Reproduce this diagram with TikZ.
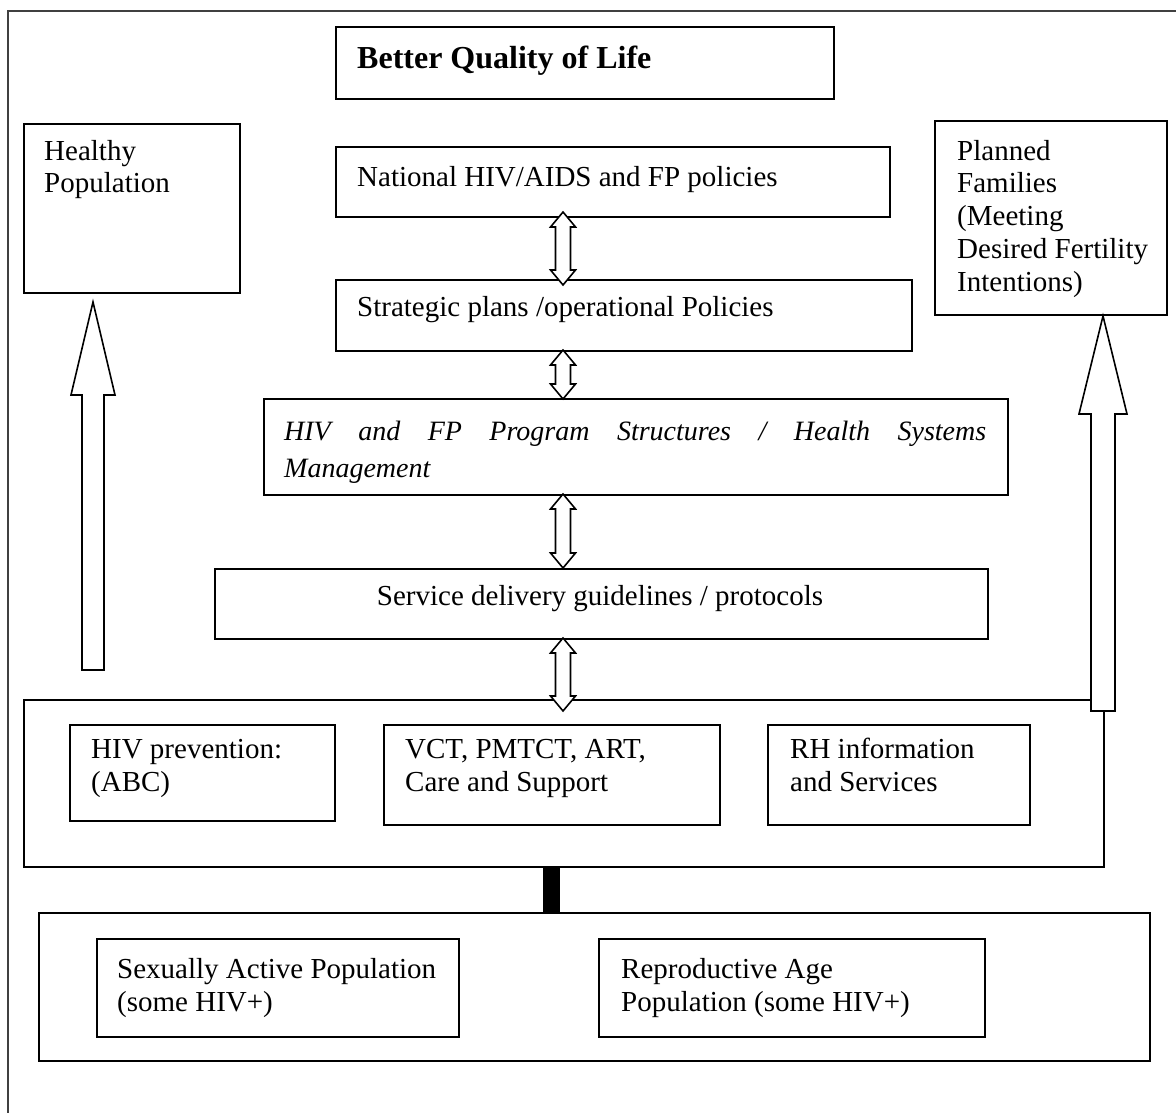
\documentclass[tikz,border=0pt]{standalone}
\usepackage{fontspec}
\setmainfont{Liberation Serif}
\begin{document}
\begin{tikzpicture}[x=1pt,y=-1pt,
  box/.style={draw=black, line width=1.6pt, inner sep=0pt, anchor=north west},
  txt/.style={inner sep=0pt, anchor=base west, align=left, font=\fontsize{29}{32.7}\selectfont},
  blk/.style={draw=black, line width=1.6pt, fill=white, line join=miter},
  bar/.style={line width=17pt, black},
  frame/.style={line width=1.3pt, black!75}]
\useasboundingbox (0,0) rectangle (1176,1113);
\draw[frame] (8,1113) -- (8,11) -- (1176,11);
% boxes
\node[box, minimum width=498, minimum height=72]  (better)  at (335,26)  {};
\node[box, minimum width=216, minimum height=169] (healthy) at (23,123)  {};
\node[box, minimum width=554, minimum height=70]  (natl)    at (335,146) {};
\node[box, minimum width=232, minimum height=194] (planned) at (934,120) {};
\node[box, minimum width=576, minimum height=71]  (strat)   at (335,279) {};
\node[box, minimum width=744, minimum height=96]  (prog)    at (263,398) {};
\node[box, minimum width=773, minimum height=70]  (serv)    at (214,568) {};
\node[box, minimum width=1080, minimum height=167] (mid)    at (23,699)  {};
\node[box, minimum width=265, minimum height=96]  (prev)    at (69,724)  {};
\node[box, minimum width=336, minimum height=100] (vct)     at (383,724) {};
\node[box, minimum width=262, minimum height=100] (rh)      at (767,724) {};
\node[box, minimum width=1111, minimum height=148] (bot)    at (38,912)  {};
\node[box, minimum width=362, minimum height=98]  (sex)     at (96,938)  {};
\node[box, minimum width=386, minimum height=98]  (repro)   at (598,938) {};
% texts (base anchor = baseline of last line)
\node[txt, font=\fontsize{32}{36}\selectfont\bfseries] (tbetter) at (357,69) {Better Quality of Life};
\node[txt] (thealthy) at (44,193) {Healthy\\Population};
\node[txt] (tnatl) at (357,186) {National HIV/AIDS and FP policies};
\node[txt] (tplanned) at (957,291) {Planned\\Families\\(Meeting\\Desired Fertility\\Intentions)};
\node[txt] (tstrat) at (357,316) {Strategic plans /operational Policies};
\node[txt, font=\fontsize{28}{37}\selectfont\itshape] (tprog) at (284,477)
  {\makebox[702pt][s]{HIV and FP Program Structures / Health Systems}\\Management};
\node[txt, anchor=base] (tserv) at (600,605) {Service delivery guidelines / protocols};
\node[txt] (tprev) at (91,791) {HIV prevention:\\(ABC)};
\node[txt] (tvct) at (405,791) {VCT, PMTCT, ART,\\Care and Support};
\node[txt] (trh) at (790,791) {RH information\\and Services};
\node[txt] (tsex) at (117,1011) {Sexually Active Population\\(some HIV+)};
\node[txt] (trepro) at (621,1011) {Reproductive Age\\Population (some HIV+)};
% connector bar
\coordinate (barx) at (551.5,0);
\draw[bar] (mid.south -| barx) -- (bot.north -| barx);
% big up arrows
\draw[blk] (93,302) -- (115,395) -- (104,395) -- (104,670) -- (82,670) -- (82,395) -- (71,395) -- cycle;
\draw[blk] (1103,316) -- (1127,414) -- (1115,414) -- (1115,711) -- (1091,711) -- (1091,414) -- (1079,414) -- cycle;
% double arrows
\newcommand\dblarr[2]{%
  \draw[blk] (563,#1) -- (575.5,#1+15) -- (570.5,#1+15) -- (570.5,#2-15) -- (575.5,#2-15)
    -- (563,#2) -- (550.5,#2-15) -- (555.5,#2-15) -- (555.5,#1+15) -- (550.5,#1+15) -- cycle;}
\dblarr{212}{285}
\dblarr{350}{399}
\dblarr{494}{568}
\dblarr{638}{711}
\end{tikzpicture}
\end{document}
